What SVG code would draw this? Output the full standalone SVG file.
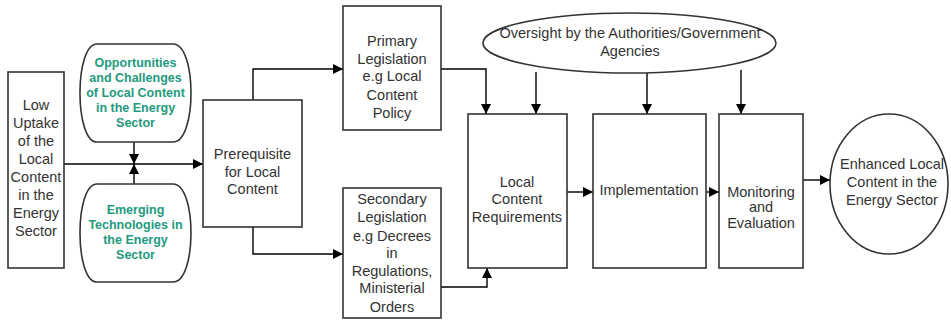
<svg xmlns="http://www.w3.org/2000/svg" width="951" height="321" viewBox="0 0 951 321">
<defs>
<marker id="ah" viewBox="0 0 10 10" refX="10" refY="5" markerWidth="10" markerHeight="10" markerUnits="userSpaceOnUse" orient="auto">
<path d="M0,0 L10,5 L0,10 Z" fill="#000"/>
</marker>
<style>
.box{fill:#fff;stroke:#333;stroke-width:1.6}
.t{font-family:"Liberation Sans",Arial,sans-serif;font-size:14.5px;fill:#333;text-anchor:middle}
.g{font-family:"Liberation Sans",Arial,sans-serif;font-size:12.5px;font-weight:bold;fill:#23997e;text-anchor:middle}
.c{fill:none;stroke:#000;stroke-width:1.4;marker-end:url(#ah)}
</style>
</defs>
<rect width="951" height="321" fill="#fff"/>
<g id="connectors">
<path class="c" d="M64,164 H203"/>
<path class="c" d="M134,142 V164"/>
<path class="c" d="M134,184 V164"/>
<path class="c" d="M253,100 V69 H343"/>
<path class="c" d="M253,227 V254 H343"/>
<path class="c" d="M441,69 H486 V114"/>
<path class="c" d="M441,287 H487 V268"/>
<path class="c" d="M536,72 V114"/>
<path class="c" d="M647,73 V114"/>
<path class="c" d="M741,70 V114"/>
<path class="c" d="M567,192 H593"/>
<path class="c" d="M706,192 H719"/>
<path class="c" d="M803,180 H830"/>
</g>
<g id="low-uptake">
<rect class="box" x="8" y="72" width="56" height="196"/>
<text class="t"><tspan x="36" y="110">Low</tspan><tspan x="36" y="128">Uptake</tspan><tspan x="36" y="146">of the</tspan><tspan x="36" y="164">Local</tspan><tspan x="36" y="182">Content</tspan><tspan x="36" y="200">in the</tspan><tspan x="36" y="218">Energy</tspan><tspan x="36" y="236">Sector</tspan></text>
</g>
<g id="opportunities">
<path class="box" d="M97,44 H173 C197,44 197,142 173,142 H97 C74.3,142 74.3,44 97,44 Z"/>
<text class="g"><tspan x="135.5" y="66.5">Opportunities</tspan><tspan x="135.5" y="81.5">and Challenges</tspan><tspan x="135.5" y="96.5">of Local Content</tspan><tspan x="135.5" y="112">in the Energy</tspan><tspan x="135.5" y="127">Sector</tspan></text>
</g>
<g id="emerging">
<path class="box" d="M97,184 H173 C197,184 197,282 173,282 H97 C74.3,282 74.3,184 97,184 Z"/>
<text class="g"><tspan x="135.5" y="213.5">Emerging</tspan><tspan x="135.5" y="228.5">Technologies in</tspan><tspan x="135.5" y="244">the Energy</tspan><tspan x="135.5" y="259">Sector</tspan></text>
</g>
<g id="prerequisite">
<rect class="box" x="203" y="100" width="99" height="127"/>
<text class="t"><tspan x="252.5" y="159">Prerequisite</tspan><tspan x="252.5" y="177">for Local</tspan><tspan x="252.5" y="194">Content</tspan></text>
</g>
<g id="primary">
<rect class="box" x="343" y="6" width="98" height="124"/>
<text class="t"><tspan x="392" y="46">Primary</tspan><tspan x="392" y="64">Legislation</tspan><tspan x="392" y="81">e.g Local</tspan><tspan x="392" y="100">Content</tspan><tspan x="392" y="118">Policy</tspan></text>
</g>
<g id="secondary">
<rect class="box" x="343" y="188" width="98" height="130"/>
<text class="t"><tspan x="392" y="204">Secondary</tspan><tspan x="392" y="222">Legislation</tspan><tspan x="392" y="241">e.g Decrees</tspan><tspan x="392" y="258">in</tspan><tspan x="392" y="276">Regulations,</tspan><tspan x="392" y="293">Ministerial</tspan><tspan x="392" y="312">Orders</tspan></text>
</g>
<g id="oversight">
<ellipse class="box" cx="629.5" cy="43" rx="146.5" ry="30"/>
<text class="t"><tspan x="630" y="38">Oversight by the Authorities/Government</tspan><tspan x="630" y="56">Agencies</tspan></text>
</g>
<g id="requirements">
<rect class="box" x="468" y="114" width="99" height="154"/>
<text class="t"><tspan x="517" y="187">Local</tspan><tspan x="517" y="204">Content</tspan><tspan x="517" y="222">Requirements</tspan></text>
</g>
<g id="implementation">
<rect class="box" x="593" y="114" width="113" height="154"/>
<text class="t"><tspan x="649" y="195">Implementation</tspan></text>
</g>
<g id="monitoring">
<rect class="box" x="719" y="114" width="84" height="154"/>
<text class="t"><tspan x="761" y="197">Monitoring</tspan><tspan x="761" y="212">and</tspan><tspan x="761" y="228">Evaluation</tspan></text>
</g>
<g id="enhanced">
<ellipse class="box" cx="889" cy="184" rx="59" ry="70"/>
<text class="t"><tspan x="892" y="169">Enhanced Local</tspan><tspan x="892" y="187">Content in the</tspan><tspan x="892" y="205">Energy Sector</tspan></text>
</g>
</svg>
